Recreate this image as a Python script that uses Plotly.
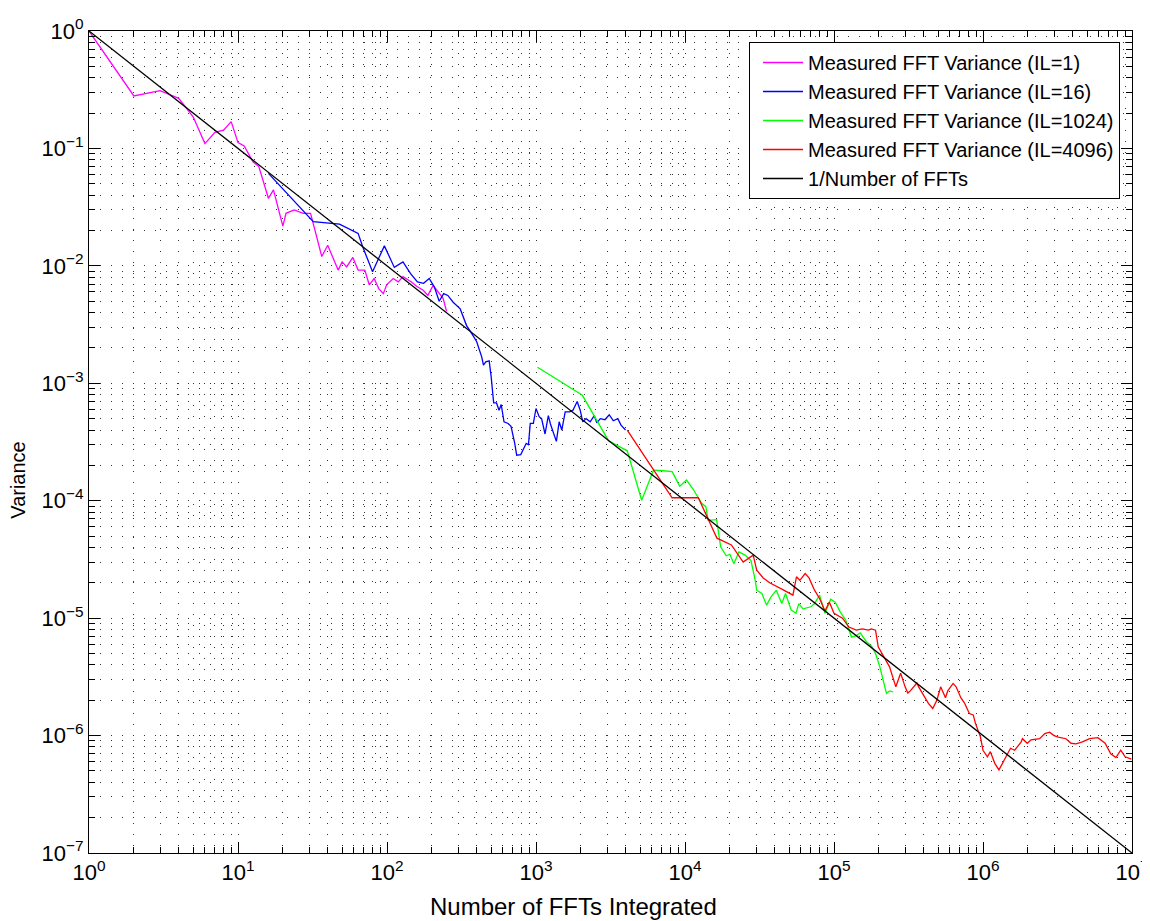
import plotly.graph_objects as go

# ---- data ----
il1_x = [1, 2, 3, 4, 5, 6, 7, 8, 9, 10, 11, 12.6, 13.8, 16, 17.3, 20, 21, 23.8, 27.4, 30.7,
         36.5, 40, 47, 50, 53.6, 59, 64, 71, 76, 82, 88, 94.5, 99.5, 110, 119, 128, 146,
         158, 175, 188, 204, 220, 238, 251]
il1_y = [1, 0.28, 0.31, 0.267, 0.186, 0.110, 0.137, 0.143, 0.169, 0.112, 0.105, 0.077, 0.070,
         0.0376, 0.0443, 0.0218, 0.028, 0.0299, 0.028, 0.028, 0.012, 0.015, 0.0092, 0.0108,
         0.0098, 0.0118, 0.0092, 0.0092, 0.0069, 0.0078, 0.0064, 0.0058, 0.0069, 0.0078,
         0.0073, 0.0081, 0.0073, 0.0067, 0.0062, 0.0056, 0.0068, 0.006, 0.0053, 0.0041]

il16_x = [16, 32, 48, 64, 68.6, 80, 96, 112, 128, 144, 160, 176, 192, 208, 224, 240, 256, 278,
          310, 342, 370, 400, 432, 444, 460, 485, 500, 520, 543, 565, 584, 610, 650, 680, 720,
          742, 790, 820, 860, 890, 915, 960, 1000, 1050, 1090, 1150, 1210, 1250, 1310, 1370,
          1430, 1490, 1570, 1680, 1770, 1890, 1980, 2060, 2170, 2310, 2460, 2560, 2700, 2900,
          3100, 3300, 3540, 3720, 3990]
il16_y = [0.0613, 0.0238, 0.0227, 0.0189, 0.0146, 0.0089, 0.0148, 0.0097, 0.0108, 0.0086,
          0.0073, 0.0071, 0.0078, 0.0066, 0.005, 0.0058, 0.0056, 0.0049, 0.0043, 0.0031,
          0.00266, 0.00226, 0.00168, 0.00143, 0.00152, 0.00155, 0.00114, 0.00068, 0.00068,
          0.00059, 0.00066, 0.00047, 0.000455, 0.00043, 0.000308, 0.000244, 0.000247, 0.00027,
          0.000308, 0.0003, 0.000455, 0.000455, 0.00061, 0.00052, 0.0005, 0.00037, 0.00053,
          0.00045, 0.00037, 0.00032, 0.00047, 0.0004, 0.00057, 0.00057, 0.00059, 0.0007,
          0.00059, 0.00047, 0.0005, 0.00047, 0.00053, 0.00046, 0.0005, 0.00049, 0.00054,
          0.00048, 0.0005, 0.00044, 0.0004]

il1024_x = [1024, 2048, 3072, 4096, 5120, 6144, 7168, 8192, 9216, 10240, 11264, 12940, 13800,
            14300, 16300, 17350, 18900, 20000, 21300, 23000, 25300, 27700, 29600, 30300, 32800,
            35300, 37600, 41000, 44600, 47300, 51600, 55600, 58000, 62000, 70000, 74000, 80000,
            87000, 95000, 102000, 110000, 120000, 131000, 141000, 150000, 165000, 178000,
            190000, 203000, 215000, 225000, 236000, 250000]
il1024_y = [0.00137, 0.00079, 0.000323, 0.000266, 0.000101, 0.000182, 0.00018, 0.000177,
            0.000133, 0.00015, 0.000127, 9.5e-5, 8.9e-5, 6.8e-5, 6.9e-5, 4.05e-5, 3.4e-5,
            3.5e-5, 2.9e-5, 3.67e-5, 3.44e-5, 3.1e-5, 2.1e-5, 1.73e-5, 1.62e-5, 1.29e-5,
            1.5e-5, 1.73e-5, 1.33e-5, 1.62e-5, 1.17e-5, 1.1e-5, 1.33e-5, 1.2e-5, 1.25e-5,
            1.33e-5, 1.57e-5, 1.1e-5, 1.45e-5, 1.37e-5, 1.13e-5, 9.6e-6, 6.9e-6, 7.1e-6,
            7.5e-6, 6.3e-6, 5.8e-6, 5.0e-6, 3.85e-6, 2.78e-6, 2.29e-6, 2.4e-6, 2.35e-6]

il4096_x = [4096, 8192, 12288, 14700, 16384, 20480, 24576, 28672, 30300, 33500, 37000, 46000,
            53000, 56000, 59000, 64000, 68000, 74000, 80000, 87000, 93000, 100000, 114000,
            126000, 141000, 155000, 170000, 178000, 190000, 198000, 215000, 236000, 260000,
            280000, 300000, 313000, 325000, 360000, 370000, 390000, 430000, 460000, 490000,
            520000, 560000, 580000, 630000, 660000, 710000, 750000, 810000, 860000, 890000,
            960000, 1.0e6, 1.07e6, 1.12e6, 1.2e6, 1.28e6, 1.38e6, 1.53e6, 1.63e6, 1.8e6,
            1.84e6, 1.98e6, 2.1e6, 2.4e6, 2.6e6, 2.8e6, 3.0e6, 3.2e6, 3.6e6, 3.9e6, 4.2e6,
            4.6e6, 5.2e6, 5.9e6, 6.6e6, 7.2e6, 7.8e6, 8.4e6, 9.0e6, 9.9e6]
il4096_y = [0.0004, 0.000106, 0.000106, 6.4e-5, 4.8e-5, 4.2e-5, 3.0e-5, 3.44e-5, 2.56e-5,
            2.2e-5, 2.0e-5, 1.73e-5, 1.57e-5, 2.25e-5, 2.1e-5, 2.4e-5, 2.2e-5, 1.73e-5,
            1.47e-5, 1.15e-5, 1.37e-5, 1.1e-5, 1.0e-5, 8.4e-6, 7.9e-6, 8.1e-6, 7.9e-6, 8.1e-6,
            7.9e-6, 5.7e-6, 4.8e-6, 3.85e-6, 2.6e-6, 3.4e-6, 2.6e-6, 2.3e-6, 2.4e-6, 2.8e-6,
            2.6e-6, 2.3e-6, 1.88e-6, 1.7e-6, 2.0e-6, 2.6e-6, 2.1e-6, 2.4e-6, 2.78e-6, 2.6e-6,
            2.1e-6, 1.9e-6, 1.54e-6, 1.5e-6, 1.27e-6, 9.8e-7, 7.5e-7, 6.6e-7, 7.3e-7, 5.8e-7,
            5.1e-7, 6.1e-7, 7.8e-7, 7.5e-7, 8.8e-7, 9.4e-7, 8.6e-7, 9.2e-7, 9.4e-7, 1.04e-6,
            1.07e-6, 1.0e-6, 9.7e-7, 9.4e-7, 8.6e-7, 8.5e-7, 8.8e-7, 9.4e-7, 9.6e-7, 8.6e-7,
            7.0e-7, 6.5e-7, 7.5e-7, 6.6e-7, 6.3e-7]

ref_x = [1, 1e7]
ref_y = [1, 1e-7]

names = ["Measured FFT Variance (IL=1)", "Measured FFT Variance (IL=16)",
         "Measured FFT Variance (IL=1024)", "Measured FFT Variance (IL=4096)",
         "1/Number of FFTs"]
colors = ["#FF00FF", "#0000FF", "#00FF00", "#FF0000", "#000000"]

x_title = "Number of FFTs Integrated"
y_title = "Variance"

# tick positions and labels
x_tickvals = [1, 10, 100, 1e3, 1e4, 1e5, 1e6, 1e7]
x_ticktext = ["10<sup>0</sup>", "10<sup>1</sup>", "10<sup>2</sup>", "10<sup>3</sup>",
              "10<sup>4</sup>", "10<sup>5</sup>", "10<sup>6</sup>", "10<sup>7</sup>"]
y_tickvals = [1e-7, 1e-6, 1e-5, 1e-4, 1e-3, 1e-2, 1e-1, 1]
y_ticktext = ["10<sup>\u22127</sup>", "10<sup>\u22126</sup>", "10<sup>\u22125</sup>",
              "10<sup>\u22124</sup>", "10<sup>\u22123</sup>", "10<sup>\u22122</sup>",
              "10<sup>\u22121</sup>", "10<sup>0</sup>"]
minor_mult = [2, 3, 4, 5, 6, 7, 8, 9]

x_minor = [m * d for d in x_tickvals[:-1] for m in minor_mult]
y_minor = [m * d for d in y_tickvals[:-1] for m in minor_mult]

series = [(il1_x, il1_y), (il16_x, il16_y), (il1024_x, il1024_y),
          (il4096_x, il4096_y), (ref_x, ref_y)]

FONT = "Liberation Sans, Arial, Helvetica, sans-serif"

fig = go.Figure()
for (xs, ys), n, c in zip(series, names, colors):
    fig.add_trace(go.Scatter(x=xs, y=ys, mode="lines", name=n,
                             line=dict(color=c, width=1.3)))

grid_common = dict(showgrid=True, gridcolor="#333333", gridwidth=1, griddash="1px,10px")


def axis_style(tv, tt, mv):
    return dict(
        type="log", showline=True, linecolor="black", linewidth=1, mirror="allticks",
        ticks="inside", ticklen=11, tickwidth=1, tickcolor="black",
        tickmode="array", tickvals=tv, ticktext=tt,
        tickfont=dict(family=FONT, size=22, color="black"),
        ticklabeloverflow="allow", automargin=False,
        zeroline=False,
        minor=dict(tickmode="array", tickvals=mv, ticks="inside", ticklen=6, tickwidth=1,
                   tickcolor="black", **grid_common),
        **grid_common,
    )


fig.update_xaxes(range=[0, 7], **axis_style(x_tickvals, x_ticktext, x_minor))
fig.update_yaxes(range=[-7, 0], **axis_style(y_tickvals, y_ticktext, y_minor))

# plot area spans 1043 x 822 px
fig.add_annotation(text=x_title, xref="paper", yref="paper", x=0.465, y=-0.0645,
                   xanchor="center", yanchor="middle", showarrow=False,
                   font=dict(family=FONT, size=24, color="black"))
fig.add_annotation(text=y_title, xref="paper", yref="paper", x=-0.068, y=0.453,
                   xanchor="center", yanchor="middle", showarrow=False, textangle=-90,
                   font=dict(family=FONT, size=20, color="black"))

# the page body adds an 8 px offset; compensate so the plot area sits at 89..1132 x 31..853
fig.update_layout(
    width=1150, height=913,
    margin=dict(l=81, r=26, t=23, b=68),
    paper_bgcolor="white", plot_bgcolor="white",
    font=dict(family=FONT, color="black"),
    showlegend=True,
    legend=dict(x=0.9885, y=0.9866, xanchor="right", yanchor="top",
                bgcolor="white", bordercolor="black", borderwidth=1,
                font=dict(family=FONT, size=20, color="black"),
                tracegroupgap=0, itemwidth=40, indentation=8),
)

fig.write_html("out.html")
